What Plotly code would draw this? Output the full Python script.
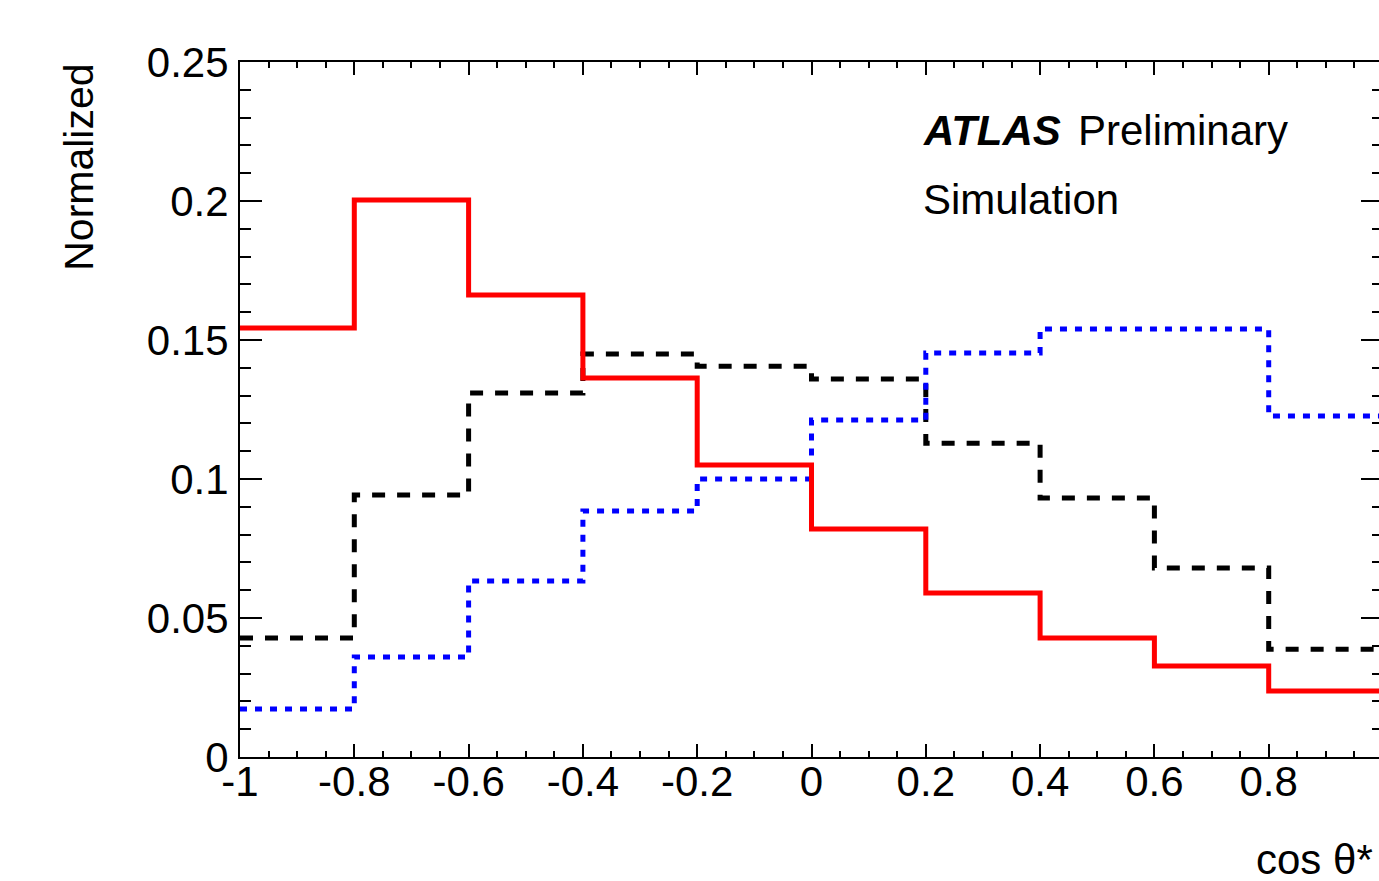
import plotly.graph_objects as go

# ---- data ----
bin_edges = [-1.0, -0.8, -0.6, -0.4, -0.2, 0.0, 0.2, 0.4, 0.6, 0.8, 1.0]
red_vals = [0.1543, 0.2004, 0.1662, 0.1363, 0.1050, 0.0820, 0.0590, 0.0428, 0.0327, 0.0237]
black_vals = [0.0428, 0.0942, 0.1309, 0.1450, 0.1406, 0.1360, 0.1129, 0.0932, 0.0680, 0.0388]
blue_vals = [0.0173, 0.0360, 0.0633, 0.0885, 0.1000, 0.1212, 0.1453, 0.1540, 0.1540, 0.1227]
x_tickvals = [-1.0, -0.8, -0.6, -0.4, -0.2, 0.0, 0.2, 0.4, 0.6, 0.8]
x_ticktext = ["-1", "-0.8", "-0.6", "-0.4", "-0.2", "0", "0.2", "0.4", "0.6", "0.8"]
y_tickvals = [0, 0.05, 0.1, 0.15, 0.2, 0.25]
y_ticktext = ["0", "0.05", "0.1", "0.15", "0.2", "0.25"]

FONT = "Liberation Sans, Arial, Helvetica, sans-serif"

W, H = 1392, 881
ML, MR, MT, MB = 240, 7, 62, 124


def step(vals):
    return list(vals) + [vals[-1]]


fig = go.Figure()
fig.add_trace(go.Scatter(x=bin_edges, y=step(black_vals), mode="lines", line_shape="hv",
                         line=dict(color="black", width=5, dash="13px,12px"), showlegend=False))
fig.add_trace(go.Scatter(x=bin_edges, y=step(blue_vals), mode="lines", line_shape="hv",
                         line=dict(color="#0000ff", width=5, dash="7px,8px"), showlegend=False))
fig.add_trace(go.Scatter(x=bin_edges, y=step(red_vals), mode="lines", line_shape="hv",
                         line=dict(color="#ff0000", width=5), showlegend=False))

fig.update_layout(
    width=W, height=H,
    margin=dict(l=ML, r=MR, t=MT, b=MB, pad=0),
    paper_bgcolor="white", plot_bgcolor="white",
    font=dict(family=FONT, size=42, color="black"),
    xaxis=dict(range=[-1, 1], tickvals=x_tickvals, ticktext=x_ticktext,
               ticks="inside", ticklen=13, tickwidth=2, tickcolor="black",
               minor=dict(dtick=0.05, tick0=-1, ticks="inside", ticklen=6, tickwidth=2, tickcolor="black"),
               showline=True, linecolor="black", linewidth=2, mirror="ticks",
               showgrid=False, zeroline=False, tickfont=dict(size=42), ticklabelstandoff=-13),
    yaxis=dict(range=[0, 0.25], tickvals=y_tickvals, ticktext=y_ticktext,
               ticks="inside", ticklen=22, tickwidth=2, tickcolor="black",
               minor=dict(dtick=0.01, tick0=0, ticks="inside", ticklen=11, tickwidth=2, tickcolor="black"),
               showline=True, linecolor="black", linewidth=2, mirror="ticks",
               showgrid=False, zeroline=False, tickfont=dict(size=42), ticklabelstandoff=1),
)

pw = W - ML - MR
ph = H - MT - MB


def px(x):
    return (x - ML) / pw


def py(y):
    return 1 - (y - MT) / ph


fig.add_annotation(text="Normalized", xref="paper", yref="paper", x=px(78), y=1.0,
                   xanchor="center", yanchor="top", textangle=-90, showarrow=False,
                   font=dict(size=41, family=FONT))
fig.add_annotation(text="cos θ*", xref="paper", yref="paper", x=px(1377), y=py(859),
                   xanchor="right", yanchor="middle", showarrow=False,
                   font=dict(size=42, family=FONT))
fig.add_annotation(text="<b><i>ATLAS</i></b>", xref="paper", yref="paper", x=px(922), y=py(130),
                   xanchor="left", yanchor="middle", showarrow=False,
                   font=dict(size=42, family=FONT))
fig.add_annotation(text="Preliminary", xref="paper", yref="paper", x=px(1077), y=py(130),
                   xanchor="left", yanchor="middle", showarrow=False,
                   font=dict(size=42, family=FONT))
fig.add_annotation(text="Simulation", xref="paper", yref="paper", x=px(922), y=py(199),
                   xanchor="left", yanchor="middle", showarrow=False,
                   font=dict(size=42, family=FONT))

fig.write_html("out.html", post_script="document.body.style.margin='0';document.body.style.overflow='hidden';document.documentElement.style.overflow='hidden';")
